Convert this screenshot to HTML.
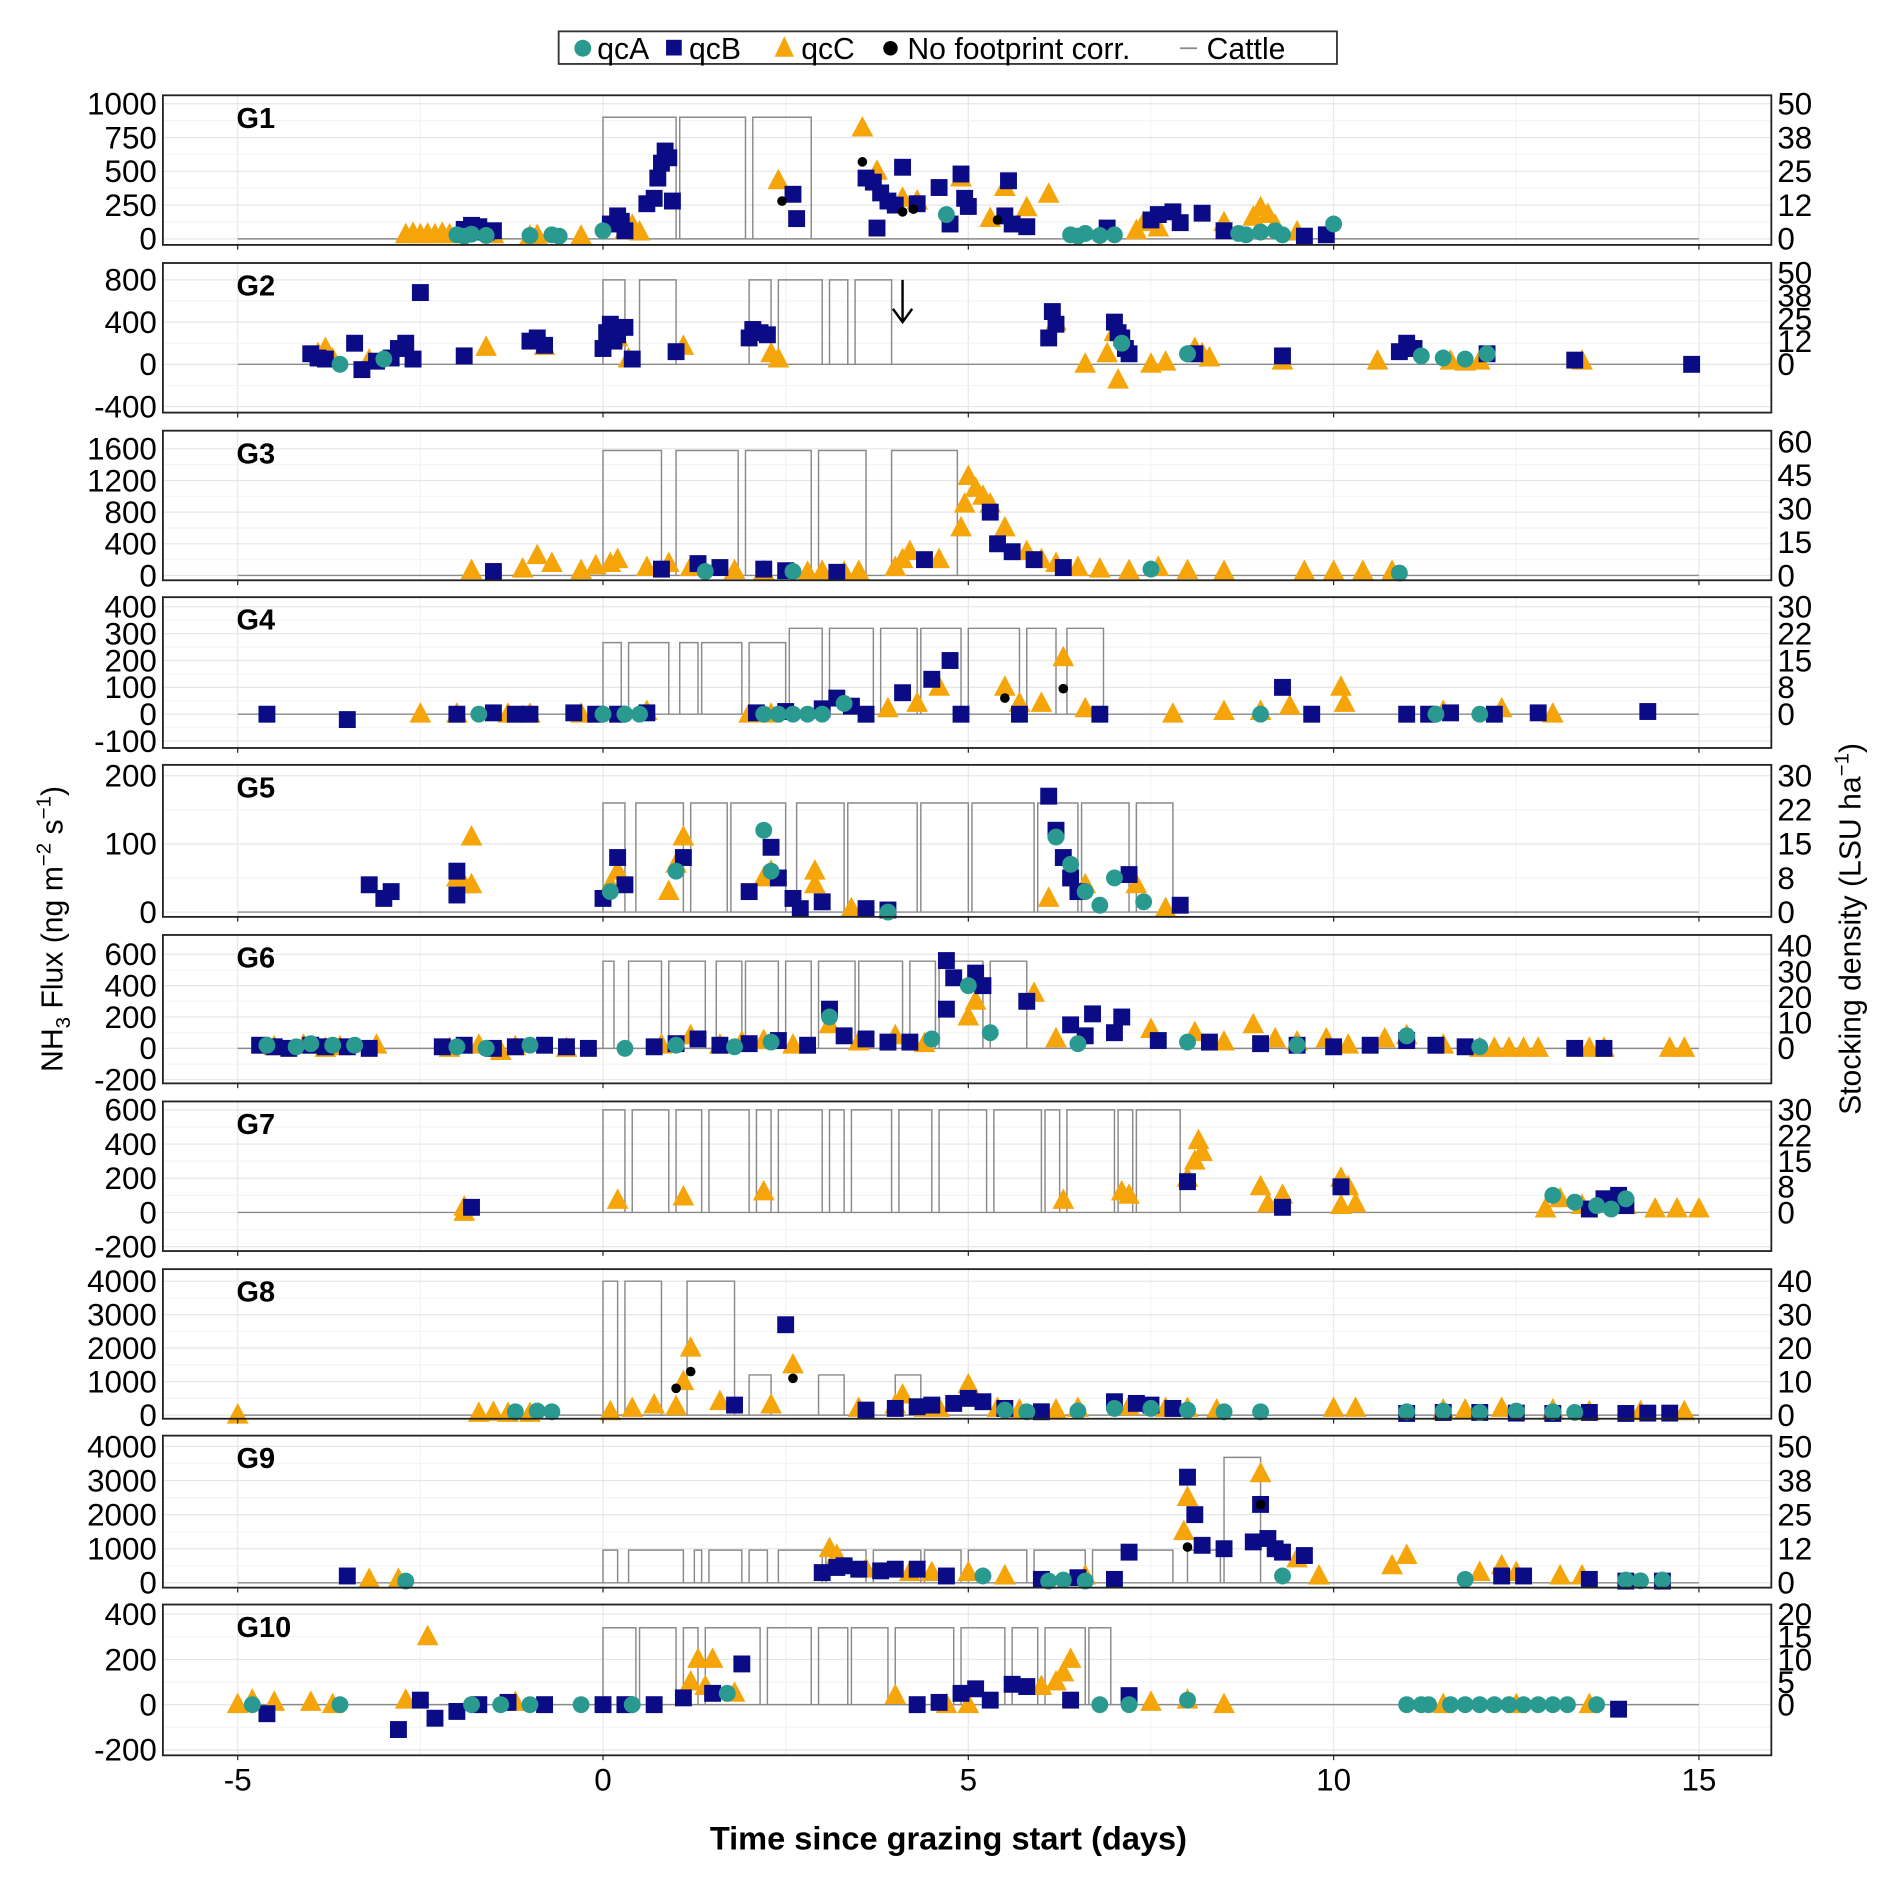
<!DOCTYPE html>
<html><head><meta charset="utf-8"><style>
html,body{margin:0;padding:0;background:#fff}
svg{display:block}
text{font-family:"Liberation Sans",Arial,sans-serif}
</style></head><body>
<svg id="chart" xmlns="http://www.w3.org/2000/svg" width="1892" height="1882" viewBox="0 0 1568 1560" preserveAspectRatio="none">
<g id="legend">
<rect x="463" y="26" width="645" height="27" fill="#fff" stroke="#333" stroke-width="1.5"/>
<circle cx="483" cy="40" r="7" fill="#2a9a90"/>
<text x="495" y="49" font-size="25">qcA</text>
<rect x="552" y="33" width="13" height="13" fill="#0b0b86"/>
<text x="571" y="49" font-size="25">qcB</text>
<polygon points="650,30 642,47 658,47" fill="#f5a50a"/>
<text x="664" y="49" font-size="25">qcC</text>
<circle cx="738" cy="40" r="6" fill="#000"/>
<text x="752" y="49" font-size="25">No footprint corr.</text>
<line x1="978" y1="40" x2="992" y2="40" stroke="#888" stroke-width="1.5"/>
<text x="1000" y="49" font-size="25">Cattle</text>
</g>
<g id="panels"></g>
<text x="786" y="1533" font-size="27" font-weight="bold" text-anchor="middle">Time since grazing start (days)</text>
<text transform="translate(52,770) rotate(-90)" font-size="25" text-anchor="middle">NH<tspan font-size="17" dy="6">3</tspan><tspan dy="-6"> Flux (ng m</tspan><tspan font-size="17" dy="-10">−2</tspan><tspan dy="10"> s</tspan><tspan font-size="17" dy="-10">−1</tspan><tspan dy="10">)</tspan></text>
<text transform="translate(1542,770) rotate(-90)" font-size="25" text-anchor="middle">Stocking density (LSU ha<tspan font-size="17" dy="-10">−1</tspan><tspan dy="10">)</tspan></text>
</svg>
<script>
// ---- data (days, flux) ----
const xTicks=[-5,0,5,10,15];
const g1_qcA=[[-2,30],[-1.9,20],[-1.8,35],[-1.6,25],[-1,25],[-0.7,30],[-0.6,20],[0,60],[4.7,180],[6.4,30],[6.5,20],[6.6,40],[6.8,25],[7,30],[8.7,40],[8.8,30],[9,50],[9.2,60],[9.3,30],[10,110]];
const g1_qcB=[[-1.9,70],[-1.8,100],[-1.7,90],[-1.6,50],[-1.5,60],[0.1,110],[0.2,170],[0.25,130],[0.3,60],[0.6,260],[0.7,300],[0.75,450],[0.8,560],[0.85,650],[0.9,600],[0.95,280],[2.6,330],[2.65,150],[3.6,450],[3.7,420],[3.75,80],[3.8,340],[3.9,280],[4,250],[4.1,530],[4.3,260],[4.6,380],[4.75,110],[4.9,480],[4.95,300],[5,240],[5.5,170],[5.55,430],[5.6,110],[5.8,90],[6.9,80],[7.5,140],[7.6,180],[7.8,200],[7.9,120],[8.2,190],[8.5,60],[9.6,20],[9.9,30]];
const g1_qcC=[[-2.7,30],[-2.6,40],[-2.5,30],[-2.4,35],[-2.3,30],[-2.2,40],[-2.1,30],[-1.5,30],[-1,20],[-0.9,25],[-0.3,20],[0.3,60],[0.4,100],[0.5,50],[2.4,430],[3.55,820],[3.75,500],[4.1,300],[4.3,280],[4.9,450],[5.3,150],[5.5,380],[5.8,230],[6.1,330],[7.3,60],[7.4,120],[7.6,80],[8.5,120],[8.9,160],[9,230],[9.1,180],[9.2,100],[9.5,50]];
const g1_blk=[[2.45,280],[3.55,570],[4.1,200],[4.25,220],[5.4,140]];
const g1_cattle=[[0,1,45],[1.05,1.95,45],[2.05,2.85,45]];

const g2_qcA=[[-3.6,0],[-3,50],[7.1,200],[8,100],[11.2,80],[11.5,60],[11.8,50],[12.1,100]];
const g2_qcB=[[-4,100],[-3.9,60],[-3.8,50],[-3.4,200],[-3.3,-50],[-3.1,30],[-2.9,60],[-2.8,150],[-2.7,200],[-2.6,50],[-2.5,680],[-1.9,80],[-1,220],[-0.9,250],[-0.8,180],[0,150],[0.05,300],[0.1,380],[0.15,220],[0.2,280],[0.3,350],[0.4,50],[1,120],[2,250],[2.05,330],[2.15,300],[2.25,280],[6.1,250],[6.15,500],[6.2,380],[7,400],[7.05,300],[7.1,250],[7.15,150],[7.2,100],[8.1,100],[9.3,80],[10.9,120],[11,200],[11.1,150],[12.1,100],[13.3,40],[14.9,0]];
const g2_qcC=[[-3.9,100],[-3.8,150],[-3.7,50],[-3.2,40],[-1.6,160],[-0.8,170],[0.2,250],[0.35,50],[1.1,170],[2.3,100],[2.4,50],[6.2,400],[6.6,0],[6.9,100],[7,300],[7.05,-150],[7.5,0],[7.7,20],[8.1,150],[8.2,100],[8.3,60],[9.3,30],[10.6,30],[11.6,30],[11.8,20],[12,30],[13.4,30]];
const g2_blk=[];
const g2_cattle=[[0,0.3,46],[0.5,1,46],[2,2.3,46],[2.4,3,46],[3.1,3.35,46],[3.45,3.95,46]];

const g3_qcA=[[1.4,50],[2.6,50],[7.5,80],[10.9,30]];
const g3_qcB=[[-1.5,50],[0.8,80],[1.3,150],[1.6,100],[2.2,80],[2.5,60],[3.2,40],[4.4,200],[5.3,800],[5.4,400],[5.6,300],[5.9,200],[6.3,100]];
const g3_qcC=[[-1.8,60],[-1.1,80],[-0.9,250],[-0.7,150],[-0.3,60],[-0.1,120],[0.1,150],[0.2,200],[0.6,100],[0.9,150],[1.2,100],[1.8,60],[2.2,50],[2.8,40],[3,50],[3.3,40],[3.5,50],[4,100],[4.1,200],[4.2,300],[4.6,200],[4.9,600],[4.95,900],[5,1250],[5.1,1100],[5.2,1000],[5.3,900],[5.5,600],[5.8,300],[6,200],[6.2,150],[6.5,100],[6.8,80],[7.2,60],[7.6,100],[8,60],[8.5,50],[9.6,50],[10,50],[10.4,50],[10.8,50]];
const g3_blk=[];
const g3_cattle=[[0,0.8,56],[1,1.85,56],[1.95,2.85,56],[2.95,3.6,56],[3.95,4.85,56]];

const g4_qcA=[[-1.7,0],[0,0],[0.3,0],[0.5,0],[2.2,0],[2.4,0],[2.6,0],[2.8,0],[3,0],[3.3,40],[9,0],[11.4,0],[12,0]];
const g4_qcB=[[-4.6,0],[-3.5,-20],[-2,0],[-1.5,5],[-1.2,0],[-1,0],[-0.4,5],[-0.1,0],[0.2,0],[0.6,5],[2.1,5],[2.5,10],[3,20],[3.2,60],[3.4,30],[3.6,0],[4.1,80],[4.5,130],[4.75,200],[4.9,0],[5.7,0],[6.8,0],[9.3,100],[9.7,0],[11,0],[11.3,0],[11.6,5],[12.2,0],[12.8,5],[14.3,10]];
const g4_qcC=[[-2.5,0],[-2,0],[-1.3,0],[-1,0],[-0.3,0],[0.6,10],[2,0],[2.3,0],[3.9,20],[4.3,40],[4.6,100],[5.5,100],[5.7,40],[6,40],[6.3,210],[6.6,20],[7.8,0],[8.5,10],[9,10],[9.4,30],[10.1,100],[10.15,40],[11.5,10],[12.3,20],[13,0]];
const g4_blk=[[5.5,60],[6.3,95]];
const g4_cattle=[[0,0.25,20],[0.35,0.9,20],[1.05,1.3,20],[1.35,1.9,20],[2,2.5,20],[2.55,3,24],[3.1,3.7,24],[3.8,4.3,24],[4.35,4.9,24],[5,5.7,24],[5.8,6.2,24],[6.35,6.85,24]];

const g5_qcA=[[0.1,30],[1,60],[2.2,120],[2.3,60],[3.9,0],[6.2,110],[6.4,70],[6.6,30],[6.8,10],[7,50],[7.4,15]];
const g5_qcB=[[-3.2,40],[-3,20],[-2.9,30],[-2,60],[-2,25],[0,20],[0.2,80],[0.3,40],[1.1,80],[2,30],[2.3,95],[2.4,50],[2.6,20],[2.7,5],[3,15],[3.6,5],[3.9,3],[6.1,170],[6.2,120],[6.3,80],[6.4,50],[6.5,30],[7.2,55],[7.9,10]];
const g5_qcC=[[-2,50],[-1.9,40],[-1.8,110],[-1.8,40],[0.1,40],[0.2,60],[1,70],[1.1,110],[0.9,30],[2.2,50],[2.3,60],[2.9,60],[2.9,40],[3.4,5],[6.1,20],[6.6,40],[7.3,40],[7.7,5]];
const g5_blk=[];
const g5_cattle=[[0,0.3,24],[0.45,1.1,24],[1.2,1.7,24],[1.75,2.5,24],[2.65,3.3,24],[3.35,4.3,24],[4.35,5,24],[5.05,5.9,24],[5.95,6.5,24],[6.55,7.2,24],[7.3,7.8,24]];

const g6_qcA=[[-4.6,20],[-4.2,10],[-4,30],[-3.7,20],[-3.4,20],[-2,10],[-1.6,0],[-1,20],[0.3,0],[1,20],[1.8,10],[2.3,40],[3.1,200],[4.5,60],[5,400],[5.3,100],[6.5,30],[8,40],[9.5,20],[11,80],[12,10]];
const g6_qcB=[[-4.7,20],[-4.5,10],[-4.3,0],[-4,20],[-3.8,10],[-3.5,10],[-3.2,0],[-2.2,10],[-1.9,20],[-1.5,0],[-1.2,10],[-0.8,20],[-0.5,10],[-0.2,0],[0.7,10],[1,30],[1.3,60],[1.6,20],[2,30],[2.4,50],[2.8,20],[3.1,250],[3.3,80],[3.6,60],[3.9,40],[4.2,40],[4.7,560],[4.7,250],[4.8,450],[5.1,480],[5.2,400],[5.8,300],[6.4,150],[6.6,80],[6.7,220],[7,100],[7.1,200],[7.6,50],[8.3,40],[9,30],[9.5,20],[10,10],[10.5,20],[11,50],[11.4,20],[11.8,10],[13.3,0],[13.7,0]];
const g6_qcC=[[-4.5,10],[-4.1,20],[-3.8,0],[-3.6,10],[-3.1,20],[-2.1,0],[-1.7,20],[-1.4,-20],[-1.2,10],[-0.5,0],[0.8,20],[1.2,80],[1.6,20],[1.9,40],[2.2,50],[2.6,20],[3.1,150],[3.5,40],[4,80],[4.4,30],[5,200],[5.1,300],[5.9,350],[6.2,60],[7.5,120],[8.1,100],[8.5,40],[8.9,150],[9.2,60],[9.5,40],[9.9,60],[10.2,20],[10.7,60],[11,80],[11.5,20],[12,0],[12.2,0],[12.4,0],[12.6,0],[12.8,0],[13.5,0],[13.7,0],[14.6,0],[14.8,0]];
const g6_blk=[];
const g6_cattle=[[0,0.15,34],[0.35,0.8,34],[0.9,1.4,34],[1.55,1.9,34],[1.95,2.4,34],[2.5,2.85,34],[2.95,3.45,34],[3.5,4.1,34],[4.2,4.55,34],[4.6,5.2,34],[5.3,5.8,34]];

const g7_qcA=[[13,100],[13.3,60],[13.6,40],[13.8,20],[14,80]];
const g7_qcB=[[-1.8,30],[8,180],[9.3,30],[10.1,150],[13.5,20],[13.7,80],[14,40],[13.9,100]];
const g7_qcC=[[-1.9,0],[-1.9,30],[0.2,70],[1.1,90],[2.2,120],[6.3,70],[7.1,120],[7.2,100],[8,200],[8.1,300],[8.15,420],[8.2,350],[9,150],[9.1,50],[9.3,100],[10.1,200],[10.2,150],[10.3,50],[10.1,40],[12.9,20],[13.1,80],[13.4,40],[14,40],[14.4,20],[14.7,20],[15,20]];
const g7_blk=[];
const g7_cattle=[[0,0.3,30],[0.4,0.9,30],[1,1.35,30],[1.45,2,30],[2.1,2.3,30],[2.4,3,30],[3.1,3.3,30],[3.4,3.95,30],[4.05,4.5,30],[4.6,5.25,30],[5.35,6,30],[6.05,6.25,30],[6.35,7,30],[7.05,7.25,30],[7.3,7.9,30]];

const g8_qcA=[[-1.2,100],[-0.9,120],[-0.7,100],[5.5,150],[5.8,100],[6.5,120],[7,200],[7.5,200],[8,150],[8.5,100],[9,100],[11,100],[11.5,120],[12,80],[12.5,120],[13,100],[13.3,80]];
const g8_qcB=[[1.8,300],[2.5,2700],[3.6,150],[4,200],[4.3,250],[4.5,300],[4.8,350],[5,500],[5.2,400],[5.5,200],[6,100],[7,400],[7.3,350],[7.5,300],[7.8,200],[11,50],[11.5,80],[12,80],[12.5,60],[13,50],[13.5,80],[14,50],[14.3,60],[14.6,60]];
const g8_qcC=[[-5,0],[-1.7,50],[-1.5,80],[-1.3,50],[-1,50],[0.1,100],[0.4,200],[0.7,300],[1,250],[1.2,2000],[1.1,1000],[1.6,400],[2.3,300],[2.6,1500],[3.5,200],[4,300],[4.1,600],[4.4,200],[5,900],[4.6,200],[5.4,200],[5.7,150],[6.2,150],[6.5,200],[7.2,250],[7.7,200],[8,200],[8.4,150],[10,200],[10.3,200],[11.5,150],[11.8,150],[12.3,200],[13,150],[13.5,100],[14.2,100],[14.8,100]];
const g8_blk=[[1.2,1300],[2.6,1100],[1,800]];
const g8_cattle=[[0,0.2,40],[0.3,0.8,40],[1.15,1.8,40],[2,2.3,12],[2.95,3.3,12],[4,4.35,12]];

const g9_qcA=[[-2.7,50],[5.2,200],[6.1,50],[6.3,80],[6.6,50],[9.3,200],[11.8,100],[14,80],[14.2,60],[14.5,80]];
const g9_qcB=[[-3.5,200],[3,300],[3.2,450],[3.3,500],[3.5,400],[3.8,350],[4,400],[4.3,400],[4.7,200],[6,100],[6.5,150],[7,100],[7.2,900],[8,3100],[8.1,2000],[8.2,1100],[8.5,1000],[8.9,1200],[9,2300],[9.1,1300],[9.2,1000],[9.3,900],[9.6,800],[12.3,200],[12.6,200],[13.5,100],[14,50],[14.5,50]];
const g9_qcC=[[-3.2,100],[-2.8,100],[3.1,1000],[3.2,800],[3.6,400],[4.2,300],[4.5,300],[5,300],[5.5,200],[6.6,200],[8,2500],[7.95,1500],[9,3200],[9.5,700],[9.8,200],[10.8,500],[11,800],[12,300],[12.3,500],[12.5,300],[13.1,200],[13.4,200]];
const g9_blk=[[8,1050],[9,2300]];
const g9_cattle=[[0,0.2,12],[0.35,1.1,12],[1.25,1.35,12],[1.45,1.9,12],[2,2.25,12],[2.4,3,12],[3.05,3.6,12],[3.7,4.35,12],[4.4,4.9,12],[5,5.8,12],[5.9,6.6,12],[6.7,7.8,12],[8,8.45,12],[8.5,9,46]];

const g10_qcA=[[-4.8,0],[-3.6,0],[-1.8,0],[-1.4,0],[-1,0],[-0.3,0],[0.4,0],[1.7,50],[6.8,0],[7.2,0],[8,20],[11,0],[11.2,0],[11.3,0],[11.6,0],[11.8,0],[12,0],[12.2,0],[12.4,0],[12.6,0],[12.8,0],[13,0],[13.2,0],[13.6,0]];
const g10_qcB=[[-4.6,-40],[-2.8,-110],[-2.5,20],[-2.3,-60],[-2,-30],[-1.7,0],[-1.3,10],[-0.8,0],[0,0],[0.3,0],[0.7,0],[1.1,30],[1.5,50],[1.9,180],[4.3,0],[4.6,10],[4.9,50],[5.1,70],[5.3,20],[5.6,90],[5.8,80],[6.4,20],[7.2,40],[13.9,-20]];
const g10_qcC=[[-5,0],[-4.8,20],[-4.5,10],[-4,10],[-3.7,0],[-2.4,300],[-2.7,20],[-1.2,10],[1.2,100],[1.3,200],[1.5,200],[1.4,80],[1.8,50],[4,40],[4.7,0],[5,0],[6,80],[6.2,100],[6.3,140],[6.4,200],[7.5,10],[8,20],[8.5,0],[11.5,0],[12.5,0],[13.5,0]];
const g10_blk=[];
const g10_cattle=[[0,0.45,17],[0.5,1,17],[1.1,1.3,17],[1.4,2.15,17],[2.25,2.85,17],[2.95,3.35,17],[3.4,3.9,17],[4,4.8,17],[4.9,5.5,17],[5.6,5.95,17],[6.05,6.6,17],[6.65,6.95,17]];

const leftTicks=[[0,250,500,750,1000],[-400,0,400,800],[0,400,800,1200,1600],[-100,0,100,200,300,400],[0,100,200],[-200,0,200,400,600],[-200,0,200,400,600],[0,1000,2000,3000,4000],[0,1000,2000,3000,4000],[-200,0,200,400]];
const rightTicks=[[0,12.5,25,37.5,50],[0,12.5,25,37.5,50],[0,15,30,45,60],[0,7.5,15,22.5,30],[0,7.5,15,22.5,30],[0,10,20,30,40],[0,7.5,15,22.5,30],[0,10,20,30,40],[0,12.5,25,37.5,50],[0,5,10,15,20]];
const panelNames=["G1","G2","G3","G4","G5","G6","G7","G8","G9","G10"];
// ---- layout (pixels in viewBox units) ----
const layout=[
 {top:79,bot:203,y0:198,ppu:0.112,r:20},
 {top:218,bot:342,y0:302,ppu:0.0875,r:17.4},
 {top:357,bot:481,y0:477,ppu:0.0656,r:28.2},
 {top:495,bot:620,y0:592,ppu:0.2225,r:13.33},
 {top:634,bot:760,y0:756,ppu:0.565,r:6.667},
 {top:775,bot:898,y0:869,ppu:0.13,r:16.35},
 {top:913,bot:1037,y0:1005,ppu:0.1417,r:20},
 {top:1052,bot:1176,y0:1173,ppu:0.02775,r:100},
 {top:1190,bot:1316,y0:1312,ppu:0.02825,r:80},
 {top:1330,bot:1455,y0:1413,ppu:0.1875,r:20}];
const series=[
 [g1_qcA,g1_qcB,g1_qcC,g1_blk,g1_cattle],[g2_qcA,g2_qcB,g2_qcC,g2_blk,g2_cattle],
 [g3_qcA,g3_qcB,g3_qcC,g3_blk,g3_cattle],[g4_qcA,g4_qcB,g4_qcC,g4_blk,g4_cattle],
 [g5_qcA,g5_qcB,g5_qcC,g5_blk,g5_cattle],[g6_qcA,g6_qcB,g6_qcC,g6_blk,g6_cattle],
 [g7_qcA,g7_qcB,g7_qcC,g7_blk,g7_cattle],[g8_qcA,g8_qcB,g8_qcC,g8_blk,g8_cattle],
 [g9_qcA,g9_qcB,g9_qcC,g9_blk,g9_cattle],[g10_qcA,g10_qcB,g10_qcC,g10_blk,g10_cattle]];
const L=135,R=1468;
const xs=d=>197+(d+5)*60.55;
const NS="http://www.w3.org/2000/svg";
function mk(tag,attrs,parent){const e=document.createElementNS(NS,tag);for(const k in attrs)e.setAttribute(k,attrs[k]);parent.appendChild(e);return e;}
const root=document.getElementById('panels');
function fmt(v){return String(Math.round(v));}
layout.forEach((p,i)=>{
 const g=mk('g',{},root);
 
 
 const ys=v=>p.y0-v*p.ppu;
 const yr=v=>p.y0-v*p.r*p.ppu;
 mk('rect',{x:L,y:p.top,width:R-L,height:p.bot-p.top,fill:'#fff'},g);
 [-2.5,2.5,7.5,12.5].forEach(d=>mk('line',{x1:xs(d),x2:xs(d),y1:p.top,y2:p.bot,stroke:'#f4f4f4','stroke-width':1},g));
 xTicks.forEach(d=>mk('line',{x1:xs(d),x2:xs(d),y1:p.top,y2:p.bot,stroke:'#e8e8e8','stroke-width':1},g));
 const lt=leftTicks[i];
 for(let k=0;k<lt.length-1;k++){const m=(lt[k]+lt[k+1])/2;mk('line',{x1:L,x2:R,y1:ys(m),y2:ys(m),stroke:'#f4f4f4'},g);}
 lt.forEach(v=>{mk('line',{x1:L,x2:R,y1:ys(v),y2:ys(v),stroke:'#e6e6e6'},g);
  const t=mk('text',{x:L-5,y:ys(v)+9,'font-size':26,'text-anchor':'end'},g);t.textContent=v;
  
  });
 rightTicks[i].forEach(v=>{const t=mk('text',{x:R+5,y:yr(v)+9,'font-size':26},g);t.textContent=fmt(v===37.5?37.6:v===12.5?12.4:v===22.5?22.4:v===7.5?7.6:v);
  
  });
 const [qa,qb,qc,bk,ct]=series[i];
 mk('line',{x1:xs(-5),x2:xs(15),y1:yr(0),y2:yr(0),stroke:'#8a8a8a','stroke-width':1.2},g);
 ct.forEach(s=>{const pth=mk('path',{d:`M${xs(s[0])},${yr(0)}V${yr(s[2])}H${xs(s[1])}V${yr(0)}`,fill:'none',stroke:'#8a8a8a','stroke-width':1.2},g);
  
  });
 qc.forEach(q=>{const x=xs(q[0]),y=ys(q[1]);const e=mk('polygon',{points:`${x},${y-10} ${x-9},${y+7} ${x+9},${y+7}`,fill:'#f5a50a'},g);
  
  });
 qb.forEach(q=>{const e=mk('rect',{x:xs(q[0])-7,y:ys(q[1])-7,width:14,height:14,fill:'#0b0b86'},g);
  
  });
 qa.forEach(q=>{const e=mk('circle',{cx:xs(q[0]),cy:ys(q[1]),r:7,fill:'#2a9a90'},g);
  
  });
 bk.forEach(q=>{const e=mk('circle',{cx:xs(q[0]),cy:ys(q[1]),r:4,fill:'#000'},g);
  
  });
 mk('rect',{x:L,y:p.top,width:R-L,height:p.bot-p.top,fill:'none',stroke:'#222','stroke-width':1.5},g);
 xTicks.forEach(d=>mk('line',{x1:xs(d),x2:xs(d),y1:p.bot,y2:p.bot+4,stroke:'#222'},g));
 const lb=mk('text',{x:196,y:p.top+27,'font-size':24,'font-weight':'bold'},g);lb.textContent=panelNames[i];
 
 
});
const ar=mk('path',{d:'M748,232V266M740,256L748,267L756,256',fill:'none',stroke:'#000','stroke-width':2},root);


xTicks.forEach(d=>{const t=mk('text',{x:xs(d),y:1484,'font-size':26,'text-anchor':'middle'},root);t.textContent=d;
 
 });
</script>
</body></html>
